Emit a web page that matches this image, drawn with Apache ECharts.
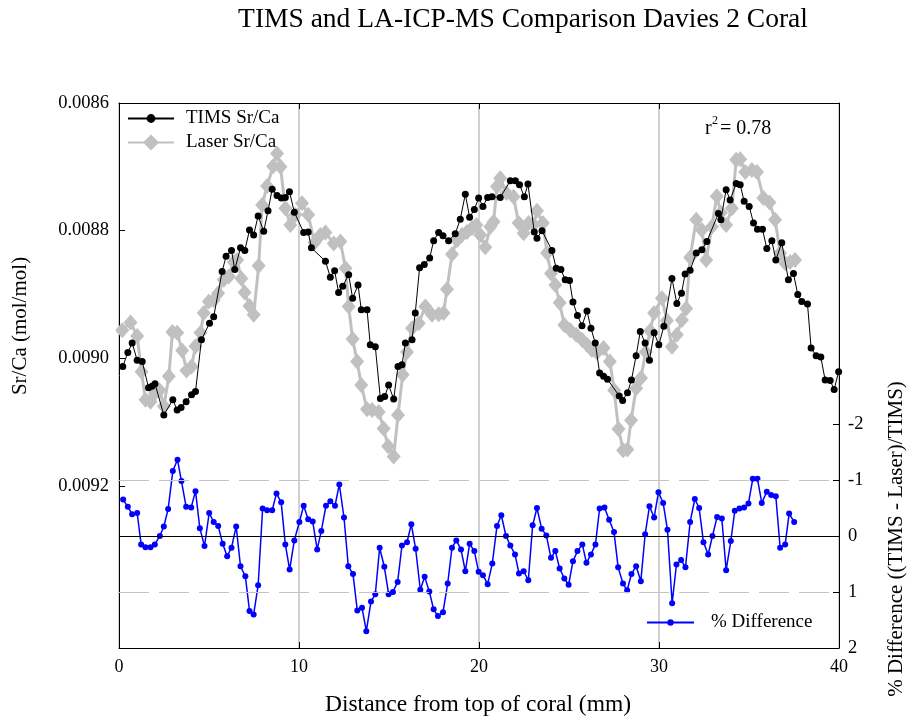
<!DOCTYPE html>
<html>
<head>
<meta charset="utf-8">
<title>TIMS and LA-ICP-MS Comparison Davies 2 Coral</title>
<script src="https://cdn.jsdelivr.net/npm/echarts@6/dist/echarts.min.js"></script>
<style>
  html, body { margin: 0; padding: 0; background: #fff; }
  #chart { width: 907px; height: 717px; }
</style>
</head>
<body>
<div id="chart"></div>
<script>
// TIMS Sr/Ca profile: distance from top of coral (mm) and Sr/Ca (mol/mol)
const timsDist = [
  0.21, 0.49, 0.73, 1.01, 1.29, 1.64, 1.83, 2.00, 2.49, 2.99,
  3.23, 3.45, 3.73, 4.03, 4.25, 4.58, 5.03, 5.26, 5.73, 5.95,
  6.25, 6.43, 6.75, 6.99, 7.25, 7.48, 7.73, 8.04, 8.28, 8.51,
  8.78, 9.02, 9.24, 9.47, 9.74, 10.26, 10.51, 10.69, 11.47, 11.74,
  11.98, 12.20, 12.43, 12.76, 12.98, 13.28, 13.46, 13.78, 13.96, 14.24,
  14.52, 14.76, 14.98, 15.26, 15.50, 15.72, 15.91, 16.28, 16.46, 16.70,
  16.96, 17.26, 17.48, 17.76, 18.00, 18.31, 18.68, 18.96, 19.24, 19.48,
  19.74, 19.98, 20.22, 20.48, 20.72, 21.18, 21.74, 22.02, 22.25, 22.52,
  22.72, 23.07, 23.22, 23.50, 24.05, 24.29, 24.55, 24.79, 25.03, 25.22,
  25.47, 25.72, 26.00, 26.22, 26.46, 26.70, 26.92, 27.14, 27.79, 27.98,
  28.25, 28.47, 28.73, 28.96, 29.23, 29.47, 29.73, 29.99, 30.27, 30.72,
  30.99, 31.25, 31.45, 31.73, 32.07, 32.38, 32.66, 33.30, 33.44, 33.73,
  33.95, 34.29, 34.51, 34.73, 35.01, 35.25, 35.47, 35.75, 35.99, 36.27,
  36.49, 36.82, 37.19, 37.47, 37.71, 37.93, 38.25, 38.45, 38.73, 38.99,
  39.23, 39.51, 39.73, 39.98
];
const timsSrCa = [
  0.009013, 0.008991, 0.008976, 0.009003, 0.009005, 0.009046, 0.009044, 0.009040, 0.009089, 0.009065,
  0.009081, 0.009077, 0.009068, 0.009057, 0.009052, 0.008971, 0.008945, 0.008935, 0.008864, 0.008840,
  0.008831, 0.008861, 0.008827, 0.008831, 0.008799, 0.008807, 0.008777, 0.008801, 0.008769, 0.008735,
  0.008745, 0.008749, 0.008748, 0.008739, 0.008771, 0.008803, 0.008802, 0.008827, 0.008848, 0.008873,
  0.008863, 0.008897, 0.008887, 0.008869, 0.008906, 0.008885, 0.008924, 0.008924, 0.008979, 0.008982,
  0.009063, 0.009060, 0.009042, 0.009064, 0.009013, 0.009010, 0.008976, 0.008971, 0.008929, 0.008858,
  0.008853, 0.008843, 0.008816, 0.008803, 0.008808, 0.008816, 0.008805, 0.008782, 0.008743, 0.008779,
  0.008767, 0.008749, 0.008762, 0.008748, 0.008747, 0.008748, 0.008722, 0.008722, 0.008728, 0.008747,
  0.008727, 0.008802, 0.008812, 0.008800, 0.008831, 0.008859, 0.008861, 0.008877, 0.008878, 0.008912,
  0.008933, 0.008949, 0.008926, 0.008953, 0.008976, 0.009023, 0.009028, 0.009033, 0.009059, 0.009066,
  0.009054, 0.009034, 0.008996, 0.008958, 0.008976, 0.009003, 0.008960, 0.008979, 0.008950, 0.008875,
  0.008914, 0.008898, 0.008868, 0.008862, 0.008835, 0.008830, 0.008817, 0.008773, 0.008783, 0.008736,
  0.008752, 0.008726, 0.008728, 0.008754, 0.008762, 0.008788, 0.008798, 0.008798, 0.008828, 0.008816,
  0.008846, 0.008819, 0.008877, 0.008867, 0.008900, 0.008911, 0.008915, 0.008984, 0.008996, 0.008998,
  0.009034, 0.009035, 0.009049, 0.009021
];

// Laser ablation (LA-ICP-MS) Sr/Ca profile
const laserDist = [
  0.18, 0.64, 1.01, 1.25, 1.47, 1.75, 1.99, 2.25, 2.49, 2.77,
  2.97, 3.23, 3.51, 3.75, 4.03, 4.25, 4.53, 4.71, 4.99, 5.26,
  5.51, 5.82, 6.10, 6.37, 6.56, 6.80, 6.98, 7.25, 7.48, 7.76,
  7.95, 8.23, 8.56, 8.78, 8.97, 9.24, 9.52, 9.80, 10.17, 10.51,
  10.86, 11.19, 11.47, 11.93, 12.30, 12.58, 12.76, 12.98, 13.23, 13.46,
  13.78, 14.06, 14.43, 14.70, 14.95, 15.26, 15.50, 15.76, 16.00, 16.28,
  16.65, 17.02, 17.39, 17.76, 18.03, 18.22, 18.50, 18.78, 19.06, 19.33,
  19.61, 19.85, 20.07, 20.35, 20.63, 20.81, 21.00, 21.18, 21.52, 21.92,
  22.20, 22.48, 22.75, 23.03, 23.22, 23.55, 23.78, 24.00, 24.24, 24.48,
  24.74, 25.07, 25.40, 25.72, 26.00, 26.27, 26.55, 26.92, 27.27, 27.51,
  27.75, 28.01, 28.24, 28.45, 28.73, 29.00, 29.26, 29.51, 29.73, 30.16,
  30.44, 30.72, 30.99, 31.27, 31.51, 31.73, 32.07, 32.38, 32.62, 32.94,
  33.21, 33.44, 33.73, 34.05, 34.29, 34.51, 34.79, 35.16, 35.44, 35.80,
  36.14, 36.45, 36.73, 37.01, 37.28, 37.56
];
const laserSrCa = [
  0.008956, 0.008944, 0.008965, 0.009021, 0.009065, 0.009068, 0.009055, 0.009050, 0.009075, 0.009028,
  0.008959, 0.008960, 0.008988, 0.009019, 0.009013, 0.008981, 0.008960, 0.008929, 0.008911, 0.008909,
  0.008898, 0.008877, 0.008872, 0.008849, 0.008846, 0.008875, 0.008897, 0.008918, 0.008932, 0.008855,
  0.008760, 0.008730, 0.008699, 0.008679, 0.008700, 0.008765, 0.008791, 0.008775, 0.008757, 0.008775,
  0.008819, 0.008807, 0.008803, 0.008820, 0.008817, 0.008859, 0.008919, 0.008970, 0.009005, 0.009042,
  0.009080, 0.009081, 0.009084, 0.009110, 0.009138, 0.009154, 0.009089, 0.009026, 0.008990, 0.008953,
  0.008945, 0.008919, 0.008932, 0.008931, 0.008929, 0.008892, 0.008837, 0.008815, 0.008807, 0.008802,
  0.008796, 0.008791, 0.008807, 0.008826, 0.008794, 0.008786, 0.008731, 0.008718, 0.008741, 0.008747,
  0.008788, 0.008804, 0.008788, 0.008791, 0.008769, 0.008788, 0.008835, 0.008867, 0.008885, 0.008913,
  0.008948, 0.008956, 0.008963, 0.008971, 0.008979, 0.008987, 0.008991, 0.008984, 0.009005, 0.009050,
  0.009111, 0.009144, 0.009143, 0.009097, 0.009047, 0.009031, 0.008990, 0.008957, 0.008929, 0.008906,
  0.008941, 0.008982, 0.008963, 0.008940, 0.008922, 0.008842, 0.008783, 0.008799, 0.008846, 0.008794,
  0.008746, 0.008772, 0.008791, 0.008765, 0.008689, 0.008688, 0.008708, 0.008705, 0.008708, 0.008749,
  0.008756, 0.008783, 0.008835, 0.008851, 0.008849, 0.008846
];

// Percent difference ((TIMS - Laser)/TIMS)
const diffDist = [
  0.23, 0.49, 0.73, 1.01, 1.23, 1.47, 1.75, 1.99, 2.27, 2.49,
  2.73, 2.99, 3.25, 3.47, 3.73, 4.01, 4.25, 4.49, 4.75, 5.01,
  5.26, 5.51, 5.76, 6.01, 6.25, 6.51, 6.75, 7.02, 7.25, 7.48,
  7.73, 7.98, 8.23, 8.51, 8.75, 9.01, 9.24, 9.48, 9.74, 10.02,
  10.26, 10.51, 10.76, 11.01, 11.24, 11.50, 11.74, 12.00, 12.24, 12.50,
  12.74, 13.00, 13.24, 13.50, 13.74, 14.00, 14.24, 14.48, 14.74, 14.98,
  15.22, 15.48, 15.72, 16.00, 16.24, 16.48, 16.74, 16.98, 17.24, 17.48,
  17.72, 18.00, 18.26, 18.50, 18.74, 19.00, 19.24, 19.48, 19.74, 19.98,
  20.22, 20.48, 20.74, 21.00, 21.24, 21.50, 21.74, 22.00, 22.22, 22.48,
  22.74, 22.98, 23.22, 23.48, 23.74, 24.00, 24.24, 24.48, 24.74, 24.98,
  25.22, 25.47, 25.74, 25.97, 26.22, 26.47, 26.70, 26.97, 27.23, 27.50,
  27.73, 28.00, 28.23, 28.47, 28.73, 28.99, 29.23, 29.47, 29.73, 29.97,
  30.23, 30.47, 30.73, 30.97, 31.23, 31.47, 31.73, 31.99, 32.23, 32.47,
  32.73, 32.97, 33.23, 33.49, 33.73, 33.99, 34.21, 34.47, 34.73, 34.97,
  35.21, 35.47, 35.71, 35.99, 36.23, 36.49, 36.73, 37.01, 37.23, 37.51
];
const diffPct = [
  -0.65, -0.52, -0.39, -0.41, 0.15, 0.20, 0.20, 0.15, 0.00, -0.17,
  -0.48, -1.16, -1.36, -0.98, -0.52, -0.51, -0.80, -0.14, 0.18, -0.41,
  -0.25, -0.18, 0.14, 0.36, 0.21, -0.17, 0.54, 0.72, 1.34, 1.40,
  0.88, -0.49, -0.46, -0.46, -0.76, -0.60, 0.15, 0.60, 0.08, -0.25,
  -0.54, -0.30, -0.26, 0.24, -0.09, -0.54, -0.62, -0.54, -0.92, -0.33,
  0.54, 0.68, 1.33, 1.28, 1.70, 1.17, 1.04, 0.21, 0.55, 1.04,
  1.00, 0.82, 0.17, 0.11, -0.21, 0.23, 0.96, 0.73, 0.99, 1.31,
  1.43, 1.36, 0.85, 0.21, 0.08, 0.24, 0.63, 0.14, 0.27, 0.64,
  0.70, 0.86, 0.49, -0.18, -0.37, 0.00, 0.17, 0.33, 0.67, 0.63,
  0.79, -0.19, -0.50, -0.13, -0.01, 0.39, 0.27, 0.58, 0.76, 0.87,
  0.45, 0.27, 0.15, 0.48, 0.33, 0.15, -0.49, -0.51, -0.29, -0.07,
  0.56, 0.85, 0.97, 0.68, 0.54, 0.81, -0.03, -0.53, -0.33, -0.78,
  -0.59, -0.11, 1.20, 0.51, 0.43, 0.56, -0.25, -0.66, -0.50, 0.11,
  0.33, 0.00, -0.34, -0.31, 0.61, 0.09, -0.45, -0.49, -0.51, -0.58,
  -1.02, -1.02, -0.59, -0.79, -0.73, -0.71, 0.21, 0.15, -0.40, -0.25
];

// Axis ticks
const distTicks = [0, 10, 20, 30, 40];
const srcaTicks = [0.0086, 0.0088, 0.0090, 0.0092];
const pctTicks = [-2, -1, 0, 1, 2];

const pairs = (xs, ys) => xs.map((x, i) => [x, ys[i]]);

const SERIF = '"Liberation Serif", "Times New Roman", "DejaVu Serif", serif';
const txt = (size) => ({ fontFamily: SERIF, fontSize: size, color: '#000' });
const label = (text, x, y, size, extra) => ({
  type: 'text', x: x, y: y, rotation: (extra && extra.rotation) || 0,
  style: Object.assign(txt(size), {
    text: text, fill: '#000',
    align: (extra && extra.align) || 'center', verticalAlign: 'middle'
  })
});

const chart = echarts.init(document.getElementById('chart'), null, { renderer: 'canvas' });

const option = {
  animation: false,
  backgroundColor: '#ffffff',
  grid: { left: 119, right: 68, top: 103, bottom: 69 },
  legend: [
    {
      data: ['TIMS Sr/Ca'],
      left: 122, top: 104,
      itemWidth: 46, itemHeight: 11,
      textStyle: Object.assign(txt(19), { padding: [0, 0, 0, 7] })
    },
    {
      data: ['Laser Sr/Ca'],
      left: 122, top: 128,
      itemWidth: 46, itemHeight: 20,
      textStyle: Object.assign(txt(19), { padding: [0, 0, 0, 7] })
    },
    {
      data: ['% Difference'],
      left: 641, top: 608,
      itemWidth: 47, itemHeight: 8,
      textStyle: Object.assign(txt(19), { padding: [0, 0, 0, 12] })
    }
  ],
  xAxis: [
    {
      type: 'value', min: 0, max: 40, interval: 10, position: 'bottom',
      axisLine: { onZero: false, lineStyle: { color: '#000', width: 1 } },
      axisTick: { inside: true, length: 6, lineStyle: { color: '#000' } },
      axisLabel: Object.assign(txt(18), { margin: 10, customValues: distTicks }),
      splitLine: { show: true, lineStyle: { color: '#c0c0c0', width: 1.5 } }
    },
    {
      type: 'value', min: 0, max: 40, interval: 10, position: 'top',
      axisLine: { onZero: false, lineStyle: { color: '#000', width: 1 } },
      axisTick: { inside: true, length: 6, lineStyle: { color: '#000' } },
      axisLabel: { show: false },
      splitLine: { show: false }
    }
  ],
  yAxis: [
    {
      type: 'value', inverse: true, min: 0.0086, max: 0.009454, interval: 0.0002, position: 'left',
      axisLine: { show: true, onZero: false, lineStyle: { color: '#000', width: 1 } },
      axisTick: { show: true, inside: true, length: 6, lineStyle: { color: '#000' }, customValues: srcaTicks },
      axisLabel: Object.assign(txt(18.5), { margin: 10, customValues: srcaTicks, formatter: (v) => v.toFixed(4) }),
      splitLine: { show: false }
    },
    {
      type: 'value', inverse: true, min: -7.73, max: 2, position: 'right',
      axisLine: { show: true, onZero: false, lineStyle: { color: '#000', width: 1 } },
      axisTick: { show: true, inside: true, length: 6, lineStyle: { color: '#000' }, customValues: pctTicks },
      axisLabel: Object.assign(txt(18.5), { margin: 9, customValues: pctTicks }),
      splitLine: { show: false }
    }
  ],
  series: [
    {
      name: 'Laser Sr/Ca', type: 'line', xAxisIndex: 0, yAxisIndex: 0,
      data: pairs(laserDist, laserSrCa),
      symbol: 'diamond', symbolSize: [14, 16],
      itemStyle: { color: '#c0c0c0' },
      lineStyle: { color: '#c0c0c0', width: 3 },
      z: 2
    },
    {
      name: 'TIMS Sr/Ca', type: 'line', xAxisIndex: 0, yAxisIndex: 0,
      data: pairs(timsDist, timsSrCa),
      symbol: 'circle', symbolSize: 7,
      itemStyle: { color: '#000' },
      lineStyle: { color: '#000', width: 1 },
      z: 3
    },
    {
      name: '% Difference', type: 'line', xAxisIndex: 0, yAxisIndex: 1,
      data: pairs(diffDist, diffPct),
      symbol: 'circle', symbolSize: 6,
      itemStyle: { color: '#0000ff' },
      lineStyle: { color: '#0000ff', width: 1.5 },
      z: 4,
      markLine: {
        silent: true, symbol: 'none', label: { show: false },
        animation: false,
        data: [
          { yAxis: -1, lineStyle: { color: '#c4c4c4', type: [30, 10], width: 1.2 } },
          { yAxis: 1, lineStyle: { color: '#c4c4c4', type: [30, 10], width: 1.2 } },
          { yAxis: 0, lineStyle: { color: '#000', type: 'solid', width: 1.2 } }
        ]
      }
    }
  ],
  graphic: [
    label('TIMS and LA-ICP-MS Comparison Davies 2 Coral', 523, 20, 27.5),
    label('Distance from top of coral (mm)', 478, 705, 23.5),
    label('Sr/Ca (mol/mol)', 20, 326, 21, { rotation: Math.PI / 2 }),
    label('% Difference ((TIMS - Laser)/TIMS)', 896, 539, 21, { rotation: Math.PI / 2 }),
    label('r', 705, 129, 20, { align: 'left' }),
    label('2', 712, 121, 12, { align: 'left' }),
    label('= 0.78', 720, 129, 20, { align: 'left' })
  ]
};

chart.setOption(option);
</script>
</body>
</html>
